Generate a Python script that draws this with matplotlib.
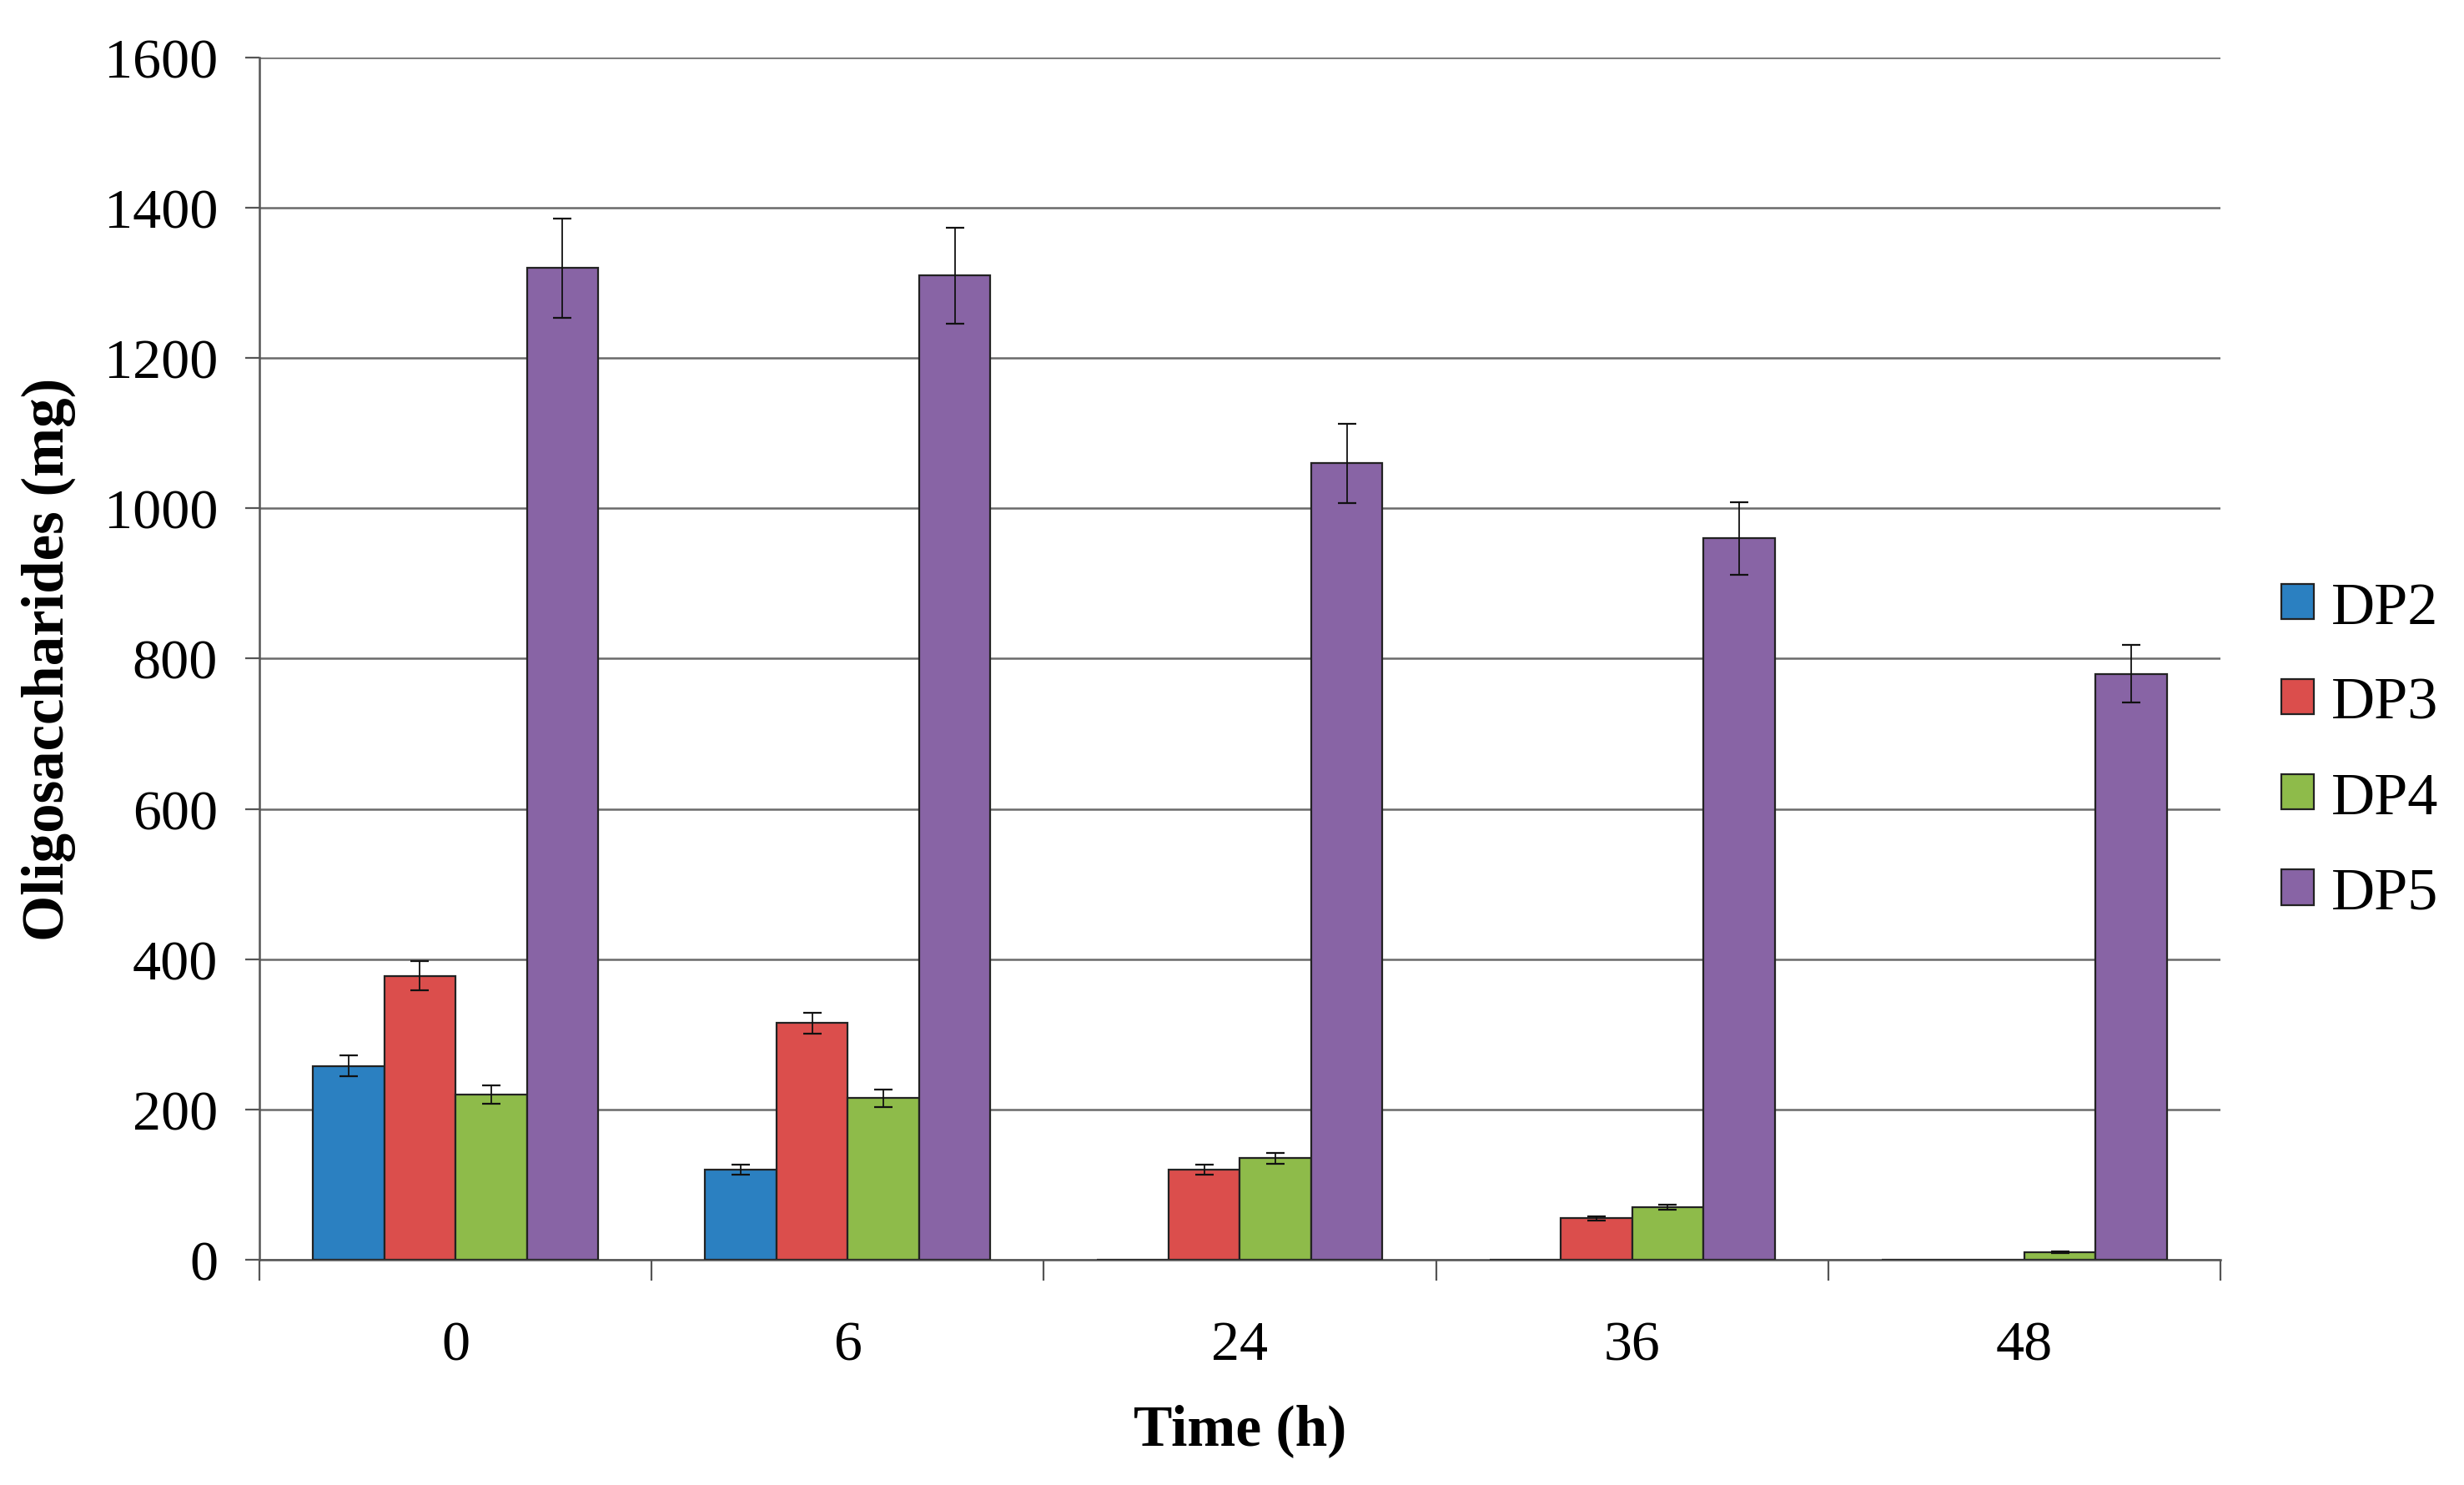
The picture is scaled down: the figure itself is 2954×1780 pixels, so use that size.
import numpy as np
from matplotlib import pyplot as plt

# data
times = ['0', '6', '24', '36', '48']
series = ['DP2', 'DP3', 'DP4', 'DP5']
dp2 = [258, 120, 0, 0, 0]
dp3 = [378, 315, 120, 55, 0]
dp4 = [220, 215, 135, 70, 10]
dp5 = [1320, 1310, 1060, 960, 780]
dp2_err = [14, 7, 0, 0, 0]
dp3_err = [19, 14, 7, 3, 0]
dp4_err = [12, 12, 7, 3, 1]
dp5_err = [66, 64, 53, 48, 38]
colores = ['#2b80c1', '#db4e4c', '#8ebb4a', '#8864a5']

plt.rcParams['font.family'] = ['Liberation Serif', 'DejaVu Serif']

fig = plt.figure(figsize=(29.54, 17.81), dpi=100)
ax = fig.add_axes([0.1053, 0.1516, 0.7958, 0.8091])

valores = [dp2, dp3, dp4, dp5]
errores = [dp2_err, dp3_err, dp4_err, dp5_err]
x = np.arange(len(times))
w = 1 / 5.5
for i in range(4):
	pos = x + (i - 1.5) * w
	ax.bar(pos, valores[i], w, color=colores[i], edgecolor='#222222', linewidth=1.6,
		label=series[i], zorder=3)
	# no error bar drawn where the value is zero
	v = np.array(valores[i], dtype=float)
	e = np.array(errores[i], dtype=float)
	m = v > 0
	ax.errorbar(pos[m], v[m], yerr=e[m], fmt='none', ecolor='#111111',
		elinewidth=1.3, capsize=8, capthick=1.6, zorder=4)

ax.set_xlim(-0.5, 4.5)
ax.set_ylim(0, 1600)
ax.set_yticks(range(0, 1601, 200))
ax.set_xticks(x)
ax.set_xticklabels(times)
ax.set_xticks(np.arange(-0.5, 5, 1), minor=True)
ax.tick_params(axis='x', which='major', length=0, labelsize=49, pad=52)
ax.tick_params(axis='x', which='minor', length=18, width=1.6, color='#555555', direction='out')
ax.tick_params(axis='y', length=12, width=1.6, color='#555555', labelsize=49, pad=24)

ax.grid(axis='y', color='#6a6a6a', linewidth=1.8, zorder=0)
for s in ['top', 'right']:
	ax.spines[s].set_visible(False)
for s in ['left', 'bottom']:
	ax.spines[s].set_color('#555555')
	ax.spines[s].set_linewidth(1.8)

ax.set_xlabel('Time (h)', fontsize=50, fontweight='bold', labelpad=28)
ax.set_ylabel('Oligosaccharides (mg)', fontsize=51, fontweight='bold', labelpad=24)

fig.legend(loc='center left', bbox_to_anchor=(0.926, 0.494), frameon=False,
	fontsize=52, borderpad=0, borderaxespad=0, handlelength=0.53, handleheight=0.53,
	handletextpad=0.3, labelspacing=0.68)

fig.savefig('out.png', dpi=100, facecolor='white')
